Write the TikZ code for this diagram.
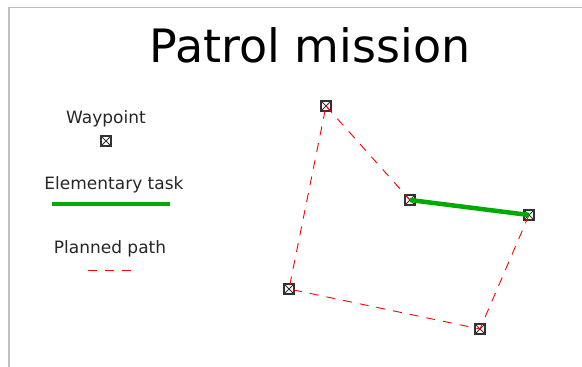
\documentclass[tikz,border=0pt]{standalone}
\usepackage{fontspec}
\setmainfont{DejaVu Sans}
\usepackage{tikz}
\usetikzlibrary{positioning}

\definecolor{taskgreen}{RGB}{0,170,0}
\definecolor{framegray}{RGB}{190,190,190}
\definecolor{markgray}{RGB}{50,50,50}

\tikzset{
    waypoint/.style={draw=markgray, line width=1.6pt, minimum size=10pt, inner sep=0pt,
        path picture={\draw[markgray, line width=0.9pt]
            (path picture bounding box.north west) -- (path picture bounding box.south east)
            (path picture bounding box.north east) -- (path picture bounding box.south west);}},
    planned/.style={red, line width=0.9pt, dash pattern=on 9pt off 8pt},
    task/.style={taskgreen, line width=4.5pt},
    legendtext/.style={font=\fontsize{17}{20}\selectfont, text=black!85}
}

\begin{document}
\begin{tikzpicture}[x=1pt, y=-1pt]
    \useasboundingbox (0,0) rectangle (582,367);
    % Frame
    \coordinate (frametop) at (582,7.5);
    \coordinate (framecorner) at (9,7.5);
    \coordinate (framebottom) at (9,367);
    \draw[framegray, line width=1.5pt] (frametop) -- (framecorner) -- (framebottom);

    % Title
    \node (title) at (310,45) {\fontsize{46}{50}\selectfont Patrol mission};

    % Legend
    \node[legendtext] (wplabel) at (106,119) {Waypoint};
    \node[waypoint] (wpsample) at (106,141) {};
    \node[legendtext] (tasklabel) at (114,185) {Elementary task};
    \coordinate (taskstart) at (52,204);
    \coordinate (taskend) at (170,204);
    \draw[task] (taskstart) -- (taskend);
    \node[legendtext] (pathlabel) at (110,249) {Planned path};
    \coordinate (pathstart) at (88,270);
    \coordinate (pathend) at (132,270);
    \draw[planned] (pathstart) -- (pathend);

    % Waypoints
    \node[waypoint] (wptop) at (326,106) {};
    \node[waypoint] (wpmid) at (410,200) {};
    \node[waypoint] (wpright) at (529,215) {};
    \node[waypoint] (wpbottom) at (480,329) {};
    \node[waypoint] (wpleft) at (289,289) {};

    % Planned path
    \draw[planned] (wptop.center) -- (wpmid.center);
    \draw[planned] (wpright.center) -- (wpbottom.center) -- (wpleft.center) -- (wptop.center);

    % Elementary task
    \draw[task] (wpmid.center) -- (wpright.center);
\end{tikzpicture}
\end{document}
